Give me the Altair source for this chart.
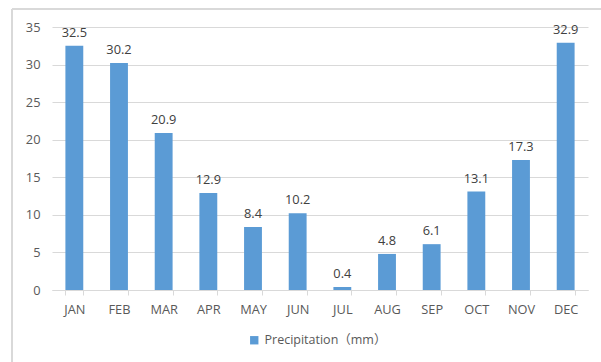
import altair as alt
import pandas as pd

months = ["JAN", "FEB", "MAR", "APR", "MAY", "JUN",
          "JUL", "AUG", "SEP", "OCT", "NOV", "DEC"]
precip = [32.5, 30.2, 20.9, 12.9, 8.4, 10.2, 0.4, 4.8, 6.1, 13.1, 17.3, 32.9]
series_name = "Precipitation（mm）"
y_ticks = [0, 5, 10, 15, 20, 25, 30, 35]

df = pd.DataFrame({"month": months, "value": precip, "series": series_name})

FONT = "Open Sans, Noto Sans CJK SC, sans-serif"
BAR = "#5b9bd5"
GRID = "#d9d9d9"

x_enc = alt.X(
    "month:N", sort=months, title=None,
    scale=alt.Scale(paddingInner=0.6, paddingOuter=0.3),
    axis=alt.Axis(labelAngle=0, domainColor=GRID, tickColor=GRID, tickSize=5,
                  tickBand="extent", labelColor="#595959", labelFontSize=12.8,
                  labelFont=FONT, labelPadding=8, grid=False),
)
y_enc = alt.Y(
    "value:Q", title=None,
    scale=alt.Scale(domain=[0, 35], nice=False),
    axis=alt.Axis(values=y_ticks, tickCount=8, labelOverlap=False,
                  domain=False, ticks=False, gridColor=GRID,
                  labelColor="#595959", labelFontSize=12.8, labelFont=FONT,
                  labelPadding=12),
)

bars = alt.Chart(df).mark_bar(color=BAR).encode(
    x=x_enc, y=y_enc,
    color=alt.Color(
        "series:N", scale=alt.Scale(range=[BAR]), title=None,
        legend=alt.Legend(orient="none", legendX=196, legendY=307,
                          symbolType="square", symbolSize=70,
                          symbolStrokeWidth=0, labelFontSize=12.5,
                          labelFont=FONT, labelColor="#595959", labelOffset=4),
    ),
)

labels = alt.Chart(df).mark_text(
    baseline="bottom", dy=-6, fontSize=12.8, font=FONT, color="#404040"
).encode(x=x_enc, y=y_enc,
         text=alt.Text("value:Q", format=".1f"))

# outer chart frame (left and top edges)
frame_left = alt.Chart(df).mark_rule(color=GRID, strokeWidth=1.5).encode(
    x=alt.value(-40), y=alt.value(-18), y2=alt.value(400))
frame_top = alt.Chart(df).mark_rule(color=GRID, strokeWidth=1.5).encode(
    x=alt.value(-40), x2=alt.value(600), y=alt.value(-18))

chart = alt.layer(frame_left, frame_top, bars, labels).properties(
    width=536, height=263,
    autosize=alt.AutoSizeParams(type="none"),
    padding={"left": 52, "top": 27, "right": 13, "bottom": 72},
    background="white",
).configure_view(stroke=None)

chart.save("out.html", embed_options={"renderer": "svg", "actions": False})
